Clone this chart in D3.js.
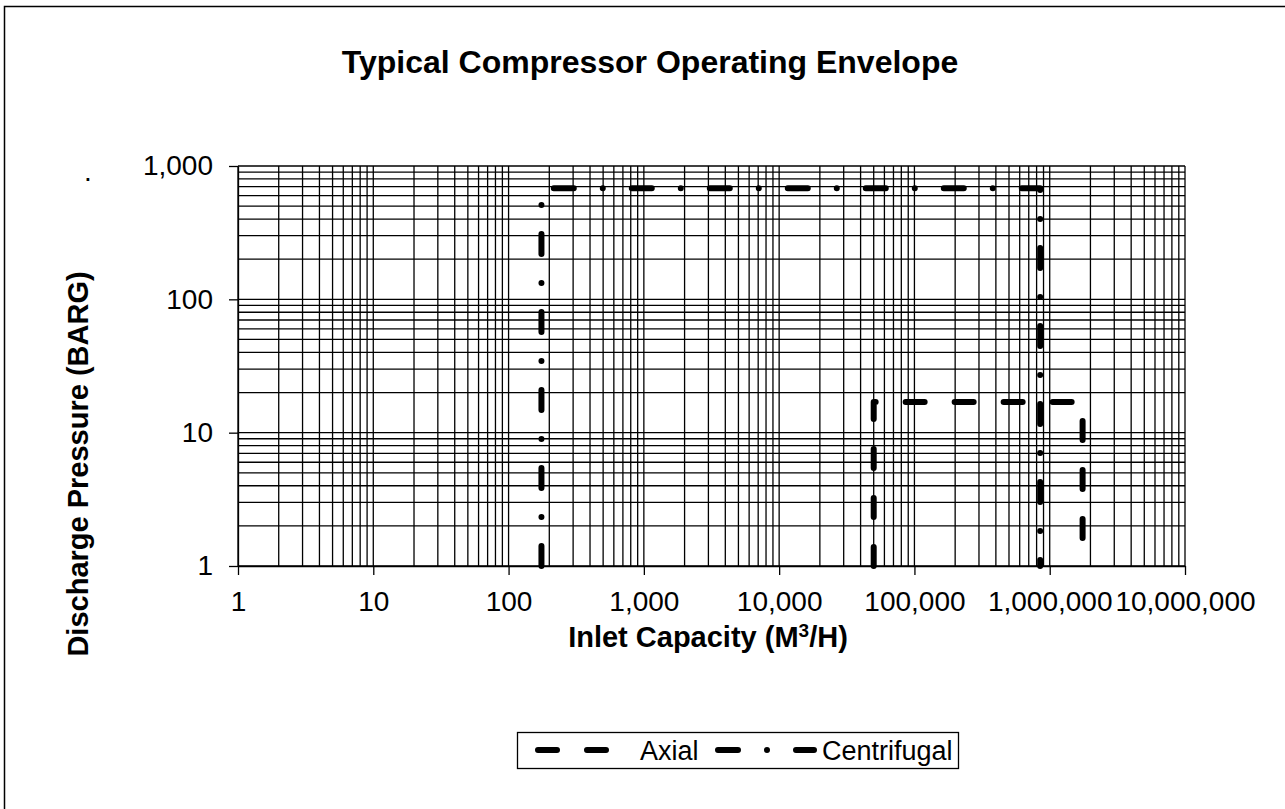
<!DOCTYPE html>
<html><head><meta charset="utf-8">
<script src="https://cdn.jsdelivr.net/npm/d3@7"></script>
<style>
body{margin:0;background:#fff;}
text{font-family:"Liberation Sans",Arial,sans-serif;fill:#000;}
</style></head>
<body>
<svg id="chart" width="1285" height="809"></svg>
<script>
const xTickValues = [1, 10, 100, 1000, 10000, 100000, 1000000, 10000000];
const yTickValues = [1, 10, 100, 1000];
const seriesNames = ["Axial", "Centrifugal"];
const axialX = [50000, 50000, 1750000, 1750000];
const axialY = [1, 17, 17, 1];
const centrifugalX = [175, 175, 850000, 850000];
const centrifugalY = [1, 680, 680, 1];

const svg = d3.select("#chart");
const plot = {left: 238, right: 1185, top: 166, bottom: 566};

const x = d3.scaleLog().domain([1, 10000000]).range([plot.left, plot.right]);
const y = d3.scaleLog().domain([1, 1000]).range([plot.bottom, plot.top]);
const fmt = d3.format(",");

// outer chart border
svg.append("rect").attr("x", 4.5).attr("y", 6.5).attr("width", 1400).attr("height", 900)
  .attr("fill", "#fff").attr("stroke", "#000").attr("stroke-width", 1.5);

// title
svg.append("text").attr("x", 650).attr("y", 73).attr("text-anchor", "middle")
  .attr("font-size", 32).attr("font-weight", "bold").text("Typical Compressor Operating Envelope");

// gridlines
const g = svg.append("g");
g.selectAll("line.vg").data(x.ticks()).join("line").attr("class", "vg")
  .attr("x1", d => x(d)).attr("x2", d => x(d)).attr("y1", plot.top).attr("y2", plot.bottom)
  .attr("stroke", "#000").attr("stroke-width", 1.3);
g.selectAll("line.hg").data(y.ticks()).join("line").attr("class", "hg")
  .attr("y1", d => y(d)).attr("y2", d => y(d)).attr("x1", plot.left).attr("x2", plot.right)
  .attr("stroke", "#000").attr("stroke-width", 1.3);

// axes
const xAxis = d3.axisBottom(x).tickValues(xTickValues).tickFormat(fmt).tickSizeInner(9).tickSizeOuter(0).tickPadding(16);
const yAxis = d3.axisLeft(y).tickValues(yTickValues).tickFormat(fmt).tickSizeInner(9).tickSizeOuter(0).tickPadding(16);
const gx = svg.append("g").attr("transform", `translate(0,${plot.bottom})`).call(xAxis);
const gy = svg.append("g").attr("transform", `translate(${plot.left},0)`).call(yAxis);
[gx, gy].forEach(a => {
  a.select(".domain").attr("stroke", "#000").attr("stroke-width", 1.3);
  a.selectAll(".tick line").attr("stroke", "#000").attr("stroke-width", 1.3);
  a.selectAll(".tick text").attr("font-size", 28).attr("font-family", "Liberation Sans, Arial, sans-serif").attr("fill", "#000");
});

// axis titles
const xt = svg.append("text").attr("x", 708).attr("y", 647).attr("text-anchor", "middle")
  .attr("font-size", 29).attr("font-weight", "bold");
xt.append("tspan").text("Inlet Capacity (M");
xt.append("tspan").attr("font-size", 19).attr("dy", -10).text("3");
xt.append("tspan").attr("dy", 10).text("/H)");

svg.append("text").attr("transform", "translate(88,464) rotate(-90)").attr("text-anchor", "middle")
  .attr("font-size", 29).attr("font-weight", "bold").text("Discharge Pressure (BARG)");
svg.append("text").attr("x", 84).attr("y", 181).attr("font-size", 28).text(".");

// series
const line = d3.line().x(d => x(d[0])).y(d => y(d[1]));
const axialPts = axialX.map((v, i) => [v, axialY[i]]);
const centPts = centrifugalX.map((v, i) => [v, centrifugalY[i]]);
const styles = {
  Axial: "19,30",
  Centrifugal: "20,29,0,29"
};
svg.append("path").datum(axialPts).attr("d", line).attr("fill", "none").attr("stroke", "#000")
  .attr("stroke-width", 6).attr("stroke-linecap", "round").attr("stroke-linejoin", "round")
  .attr("stroke-dasharray", styles.Axial);
svg.append("path").datum(centPts).attr("d", line).attr("fill", "none").attr("stroke", "#000")
  .attr("stroke-width", 6).attr("stroke-linecap", "round").attr("stroke-linejoin", "round")
  .attr("stroke-dasharray", styles.Centrifugal);

// legend
const lg = svg.append("g");
lg.append("rect").attr("x", 517.5).attr("y", 732.5).attr("width", 441).attr("height", 36)
  .attr("fill", "#fff").attr("stroke", "#000").attr("stroke-width", 1.3);
const legendItems = [
  {name: seriesNames[0], x1: 538, x2: 608, tx: 640, dash: styles.Axial},
  {name: seriesNames[1], x1: 718, x2: 814, tx: 822, dash: styles.Centrifugal}
];
legendItems.forEach(it => {
  lg.append("line").attr("x1", it.x1).attr("x2", it.x2).attr("y1", 750).attr("y2", 750)
    .attr("stroke", "#000").attr("stroke-width", 6).attr("stroke-linecap", "round")
    .attr("stroke-dasharray", it.dash);
  lg.append("text").attr("x", it.tx).attr("y", 760).attr("font-size", 27).text(it.name);
});
</script>
</body></html>
